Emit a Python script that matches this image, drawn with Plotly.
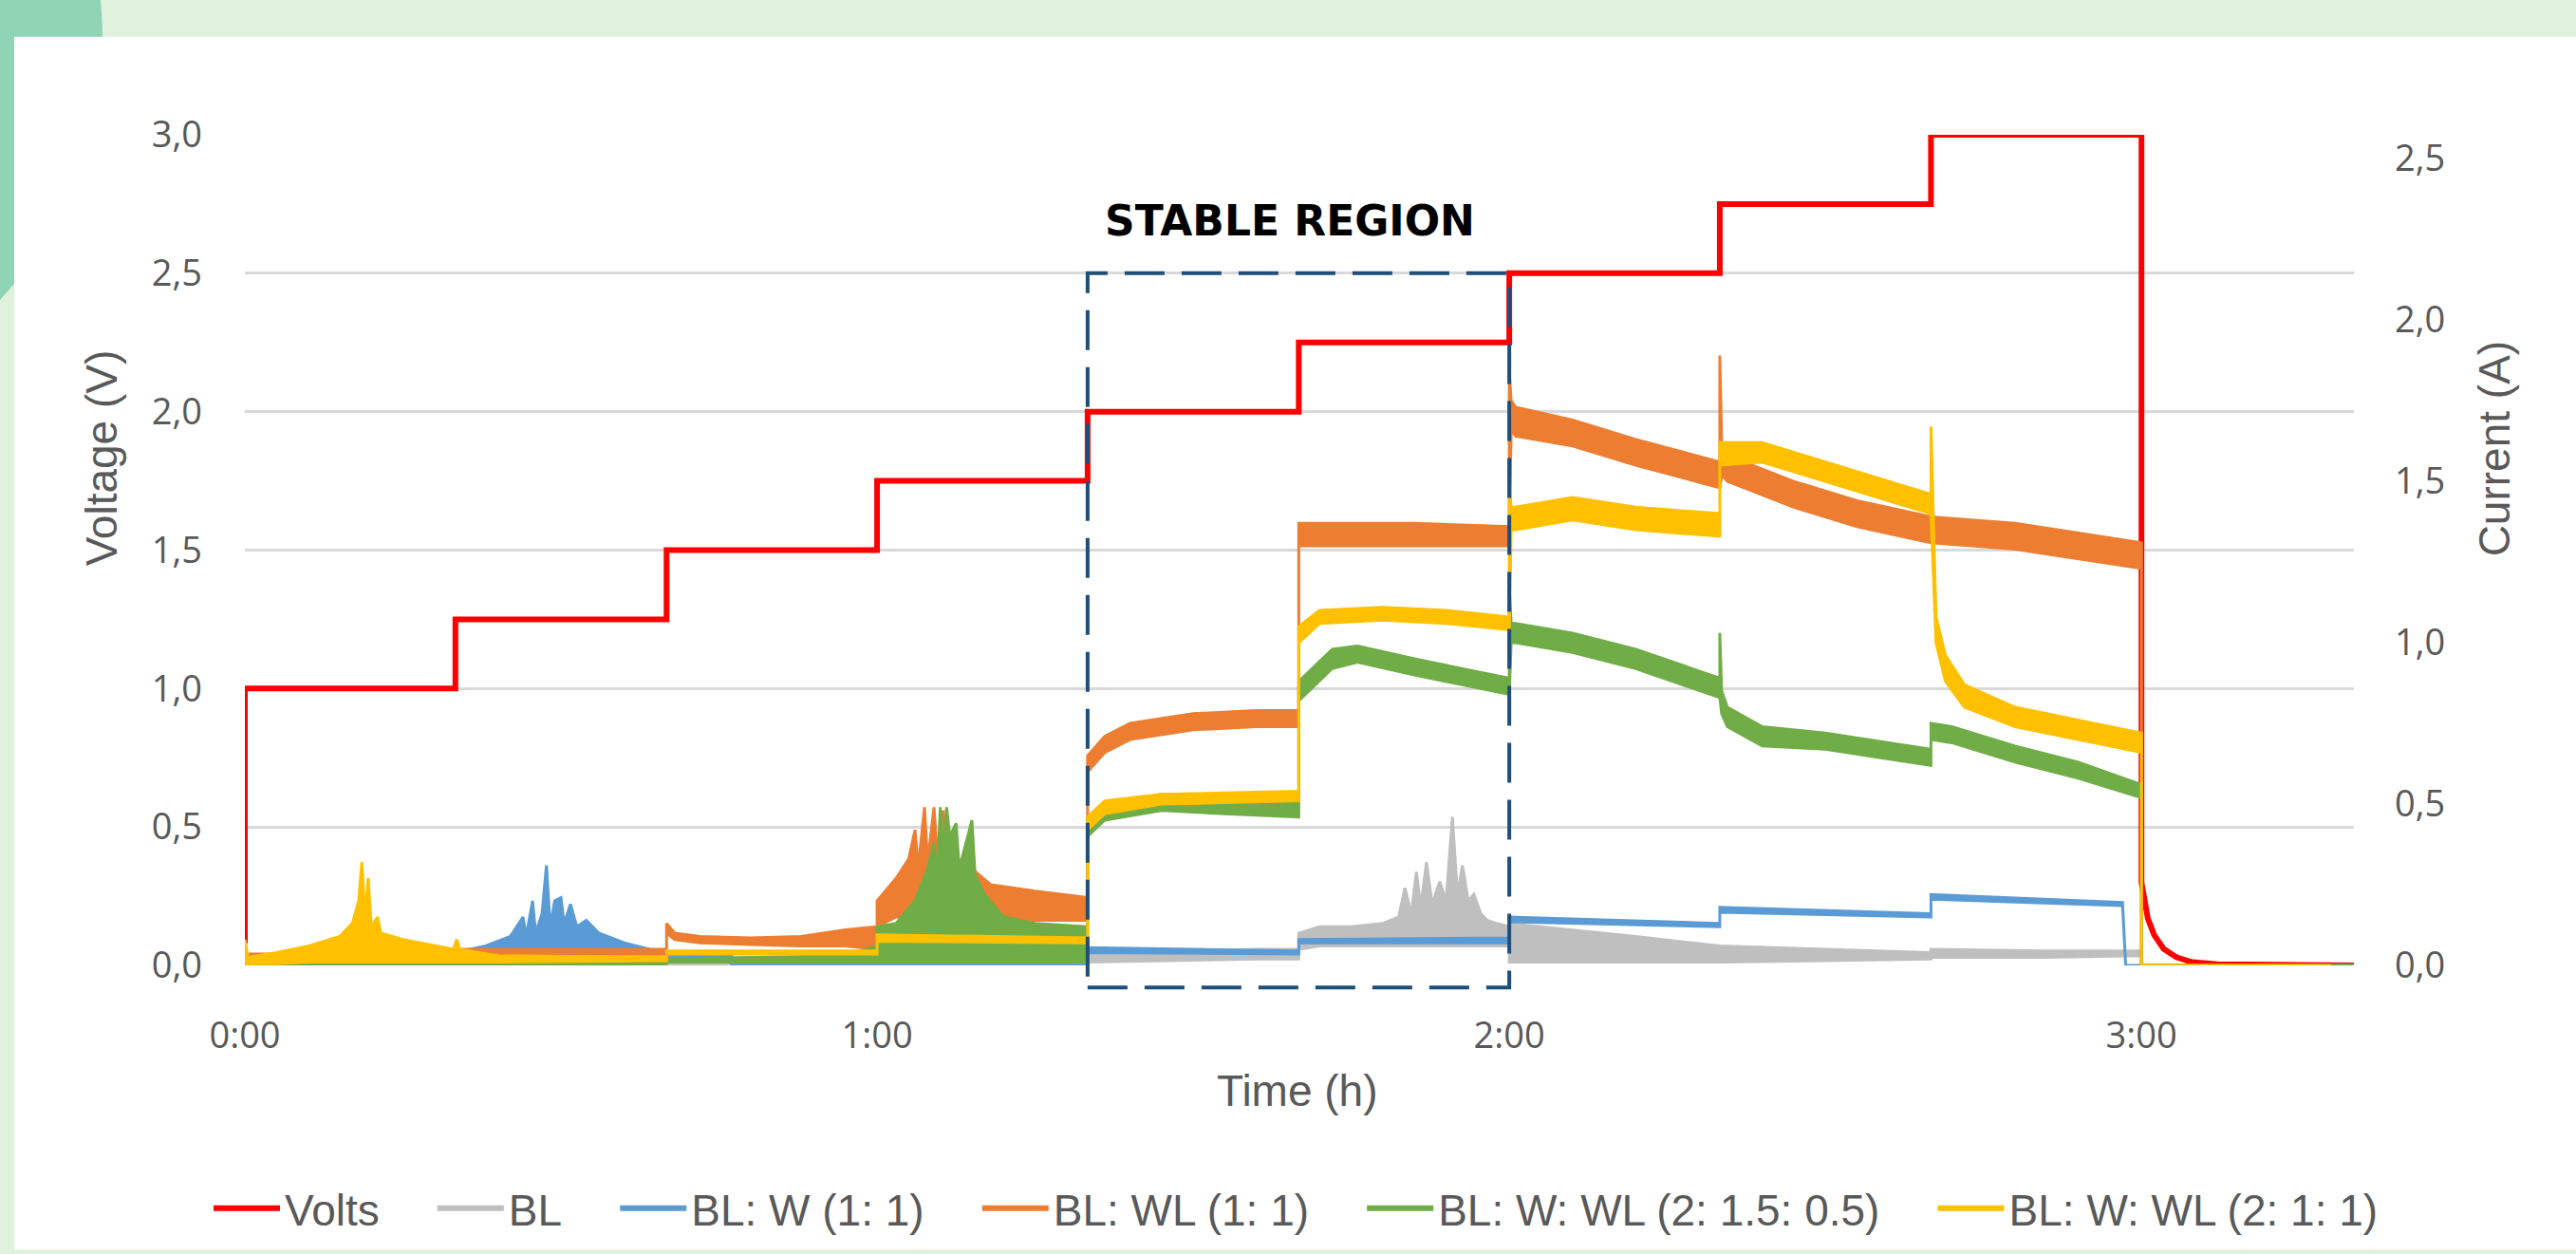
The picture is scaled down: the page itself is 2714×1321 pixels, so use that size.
import plotly.graph_objects as go

# ---------------- data ----------------
TIME_TICKS = [0, 1, 2, 3]
TIME_LABELS = ["0:00", "1:00", "2:00", "3:00"]
VOLT_TICKS = [0, 0.5, 1.0, 1.5, 2.0, 2.5, 3.0]
AMP_TICKS = [0, 0.5, 1.0, 1.5, 2.0, 2.5]

SERIES_NAMES = ["Volts", "BL", "BL: W (1: 1)", "BL: WL (1: 1)",
                "BL: W: WL (2: 1.5: 0.5)", "BL: W: WL (2: 1: 1)"]

# applied voltage (V) vs time (h)
VOLTS_T = [0.0, 0.0, 0.333, 0.333, 0.667, 0.667, 1.0, 1.0, 1.333, 1.333,
           1.667, 1.667, 2.0, 2.0, 2.333, 2.333, 2.667, 2.667, 3.0, 3.0,
           3.01, 3.02, 3.035, 3.055, 3.08, 3.12, 3.336]
VOLTS_V = [0.08, 1.0, 1.0, 1.25, 1.25, 1.5, 1.5, 1.75, 1.75, 2.0,
           2.0, 2.25, 2.25, 2.5, 2.5, 2.75, 2.75, 3.0, 3.0, 0.3,
           0.17, 0.11, 0.06, 0.03, 0.012, 0.004, 0.0]

# currents (A): time, lower and upper envelope of the noisy signal
BL_T = [0.0, 1.333, 1.333, 1.45, 1.6, 1.667, 1.667, 1.70, 1.75, 1.80,
        1.825, 1.835, 1.845, 1.853, 1.860, 1.869, 1.878, 1.89, 1.90, 1.91,
        1.918, 1.926, 1.935, 1.944, 1.955, 1.965, 1.98, 2.0, 2.0, 2.1,
        2.2, 2.333, 2.333, 2.5, 2.667, 2.667, 2.85, 3.0, 3.0, 3.336]
BL_HI = [0.01, 0.01, 0.03, 0.04, 0.05, 0.05, 0.10, 0.12, 0.12, 0.13,
         0.15, 0.24, 0.16, 0.29, 0.18, 0.32, 0.19, 0.26, 0.20, 0.46,
         0.22, 0.31, 0.20, 0.22, 0.16, 0.14, 0.13, 0.12, 0.13, 0.11,
         0.09, 0.06, 0.06, 0.05, 0.04, 0.05, 0.045, 0.045, 0.0, 0.0]
BL_LO = [0.0, 0.0, 0.01, 0.015, 0.02, 0.02, 0.05, 0.06, 0.06, 0.06,
         0.06, 0.06, 0.06, 0.06, 0.06, 0.06, 0.06, 0.06, 0.06, 0.06,
         0.06, 0.06, 0.06, 0.06, 0.06, 0.06, 0.06, 0.06, 0.01, 0.01,
         0.01, 0.01, 0.01, 0.015, 0.02, 0.025, 0.025, 0.03, 0.0, 0.0]

BLW_T = [0.0, 0.333, 0.333, 0.38, 0.42, 0.44, 0.445, 0.455, 0.46, 0.47,
         0.477, 0.483, 0.49, 0.50, 0.505, 0.515, 0.525, 0.54, 0.56, 0.60,
         0.64, 0.667, 0.667, 0.77, 0.77, 1.333, 1.333, 1.667, 1.667, 2.0,
         2.0, 2.333, 2.333, 2.667, 2.667, 2.97, 2.975, 3.336]
BLW_HI = [0.01, 0.01, 0.04, 0.06, 0.09, 0.15, 0.09, 0.20, 0.10, 0.16,
          0.31, 0.12, 0.20, 0.21, 0.13, 0.19, 0.12, 0.14, 0.10, 0.07,
          0.05, 0.045, 0.03, 0.03, 0.01, 0.01, 0.055, 0.045, 0.08, 0.085,
          0.15, 0.13, 0.18, 0.16, 0.22, 0.195, 0.0, 0.0]
BLW_LO = [0.0, 0.0, 0.03, 0.035, 0.035, 0.035, 0.035, 0.035, 0.035, 0.035,
          0.035, 0.035, 0.035, 0.035, 0.035, 0.035, 0.035, 0.035, 0.035, 0.035,
          0.035, 0.035, 0.02, 0.02, 0.005, 0.005, 0.04, 0.035, 0.07, 0.07,
          0.135, 0.12, 0.165, 0.15, 0.205, 0.185, 0.0, 0.0]

BLWL_T = [0.0, 0.333, 0.333, 0.667, 0.667, 0.68, 0.72, 0.80, 0.88, 0.95,
          1.0, 1.0, 1.03, 1.05, 1.06, 1.065, 1.075, 1.08, 1.09, 1.095,
          1.105, 1.11, 1.12, 1.13, 1.15, 1.18, 1.25, 1.333, 1.333, 1.36,
          1.40, 1.50, 1.60, 1.667, 1.667, 1.75, 1.85, 2.0, 2.0, 2.003,
          2.01, 2.10, 2.20, 2.333, 2.333, 2.336, 2.345, 2.45, 2.55, 2.667,
          2.80, 2.90, 3.0, 3.0, 3.336]
BLWL_HI = [0.035, 0.035, 0.05, 0.05, 0.13, 0.10, 0.09, 0.085, 0.09, 0.11,
           0.12, 0.20, 0.27, 0.33, 0.42, 0.30, 0.49, 0.32, 0.49, 0.35,
           0.48, 0.33, 0.40, 0.30, 0.30, 0.25, 0.23, 0.21, 0.65, 0.71,
           0.75, 0.78, 0.79, 0.79, 1.37, 1.37, 1.37, 1.36, 1.84, 1.75,
           1.73, 1.69, 1.63, 1.56, 1.89, 1.62, 1.58, 1.50, 1.44, 1.39,
           1.37, 1.34, 1.31, 0.0, 0.0]
BLWL_LO = [0.01, 0.02, 0.035, 0.035, 0.10, 0.08, 0.07, 0.065, 0.06, 0.06,
           0.05, 0.12, 0.15, 0.15, 0.15, 0.15, 0.15, 0.15, 0.15, 0.15,
           0.15, 0.15, 0.15, 0.15, 0.15, 0.14, 0.14, 0.14, 0.60, 0.66,
           0.70, 0.73, 0.74, 0.74, 1.30, 1.30, 1.30, 1.30, 1.30, 1.66,
           1.64, 1.61, 1.55, 1.48, 1.48, 1.52, 1.50, 1.42, 1.36, 1.31,
           1.29, 1.26, 1.23, 0.0, 0.0]

MIX1_T = [0.0, 0.667, 0.667, 0.95, 1.0, 1.0, 1.03, 1.06, 1.08, 1.09,
          1.095, 1.10, 1.105, 1.11, 1.115, 1.125, 1.13, 1.15, 1.155, 1.17,
          1.20, 1.25, 1.333, 1.333, 1.36, 1.45, 1.55, 1.667, 1.667, 1.72,
          1.76, 1.85, 1.95, 2.0, 2.0, 2.003, 2.01, 2.10, 2.20, 2.333,
          2.333, 2.336, 2.345, 2.40, 2.50, 2.60, 2.667, 2.667, 2.70, 2.80,
          2.90, 3.0, 3.0, 3.336]
MIX1_HI = [0.01, 0.01, 0.02, 0.03, 0.06, 0.12, 0.13, 0.20, 0.30, 0.38,
           0.27, 0.49, 0.33, 0.49, 0.40, 0.44, 0.30, 0.45, 0.28, 0.22,
           0.15, 0.13, 0.12, 0.46, 0.50, 0.53, 0.52, 0.51, 0.88, 0.98,
           0.99, 0.95, 0.91, 0.89, 1.17, 1.06, 1.06, 1.03, 0.98, 0.89,
           1.03, 0.85, 0.80, 0.74, 0.72, 0.69, 0.67, 0.75, 0.74, 0.68,
           0.63, 0.56, 0.0, 0.0]
MIX1_LO = [0.0, 0.0, 0.01, 0.01, 0.01, 0.01, 0.01, 0.01, 0.01, 0.01,
           0.01, 0.01, 0.01, 0.01, 0.01, 0.01, 0.01, 0.01, 0.01, 0.01,
           0.01, 0.01, 0.01, 0.40, 0.45, 0.48, 0.47, 0.46, 0.82, 0.92,
           0.94, 0.90, 0.86, 0.84, 0.84, 1.00, 1.00, 0.97, 0.92, 0.83,
           0.83, 0.78, 0.74, 0.68, 0.67, 0.64, 0.62, 0.70, 0.69, 0.63,
           0.58, 0.52, 0.0, 0.0]

MIX2_T = [0.0, 0.0, 0.005, 0.05, 0.10, 0.15, 0.17, 0.18, 0.185, 0.19,
          0.195, 0.20, 0.21, 0.215, 0.25, 0.30, 0.33, 0.335, 0.34, 0.40,
          0.667, 0.667, 1.0, 1.0, 1.333, 1.333, 1.36, 1.45, 1.667, 1.667,
          1.70, 1.80, 1.90, 2.0, 2.0, 2.003, 2.01, 2.10, 2.20, 2.333,
          2.333, 2.40, 2.50, 2.60, 2.667, 2.667, 2.675, 2.69, 2.72, 2.80,
          2.90, 3.0, 3.0, 3.30]
MIX2_HI = [0.0, 0.08, 0.025, 0.04, 0.06, 0.09, 0.13, 0.20, 0.32, 0.15,
           0.27, 0.12, 0.15, 0.10, 0.08, 0.06, 0.05, 0.08, 0.05, 0.03,
           0.025, 0.045, 0.045, 0.095, 0.085, 0.46, 0.51, 0.53, 0.54, 1.05,
           1.10, 1.11, 1.10, 1.08, 1.50, 1.42, 1.42, 1.45, 1.42, 1.40,
           1.62, 1.62, 1.56, 1.50, 1.46, 1.67, 1.08, 0.96, 0.87, 0.80,
           0.76, 0.72, 0.0, 0.0]
MIX2_LO = [0.0, 0.0, 0.005, 0.005, 0.01, 0.01, 0.01, 0.01, 0.01, 0.01,
           0.01, 0.01, 0.01, 0.01, 0.01, 0.01, 0.01, 0.01, 0.01, 0.01,
           0.015, 0.035, 0.035, 0.075, 0.07, 0.42, 0.47, 0.50, 0.51, 1.00,
           1.06, 1.07, 1.06, 1.04, 1.04, 1.35, 1.35, 1.38, 1.35, 1.33,
           1.55, 1.56, 1.50, 1.44, 1.40, 1.40, 1.00, 0.88, 0.80, 0.74,
           0.70, 0.66, 0.0, 0.0]

STABLE_START, STABLE_END = 1.333, 2.0        # h
STABLE_V_TOP, STABLE_V_BOTTOM = 2.5, -0.08   # V

# ---------------- styling ----------------
COLORS = ["#ff0000", "#bfbfbf", "#5b9bd5", "#ed7d31", "#70ad47", "#ffc000"]
TEXT_GREY = "#595959"
GRID = "#d9d9d9"
LIGHT_GREEN = "#dff2dc"
DARK_GREEN = "#8fd4b5"
BOX_BLUE = "#1f4e79"
SANS = "Liberation Sans, Arial, sans-serif"
TICK_FONT = dict(family="Open Sans, DejaVu Sans, sans-serif", size=38, color=TEXT_GREY)
LABEL_FONT = dict(family=SANS, size=46, color=TEXT_GREY)
LEGEND_PAD = "\u00a0" * 4   # spacing after each legend entry

W, H = 2714, 1321
PLOT_L, PLOT_R, PLOT_T, PLOT_B = 258, 2480, 142, 1024
X_RANGE = [0, 3.336]
V_RANGE = [0, 3.0]
A_RANGE = [0, 2.574]


def px(x):
    return (x - PLOT_L) / (PLOT_R - PLOT_L)


def py(y):
    return (PLOT_B - y) / (PLOT_B - PLOT_T)


def xd(t):
    return (t - X_RANGE[0]) / (X_RANGE[1] - X_RANGE[0])


def yd(v):
    return (v - V_RANGE[0]) / (V_RANGE[1] - V_RANGE[0])


fig = go.Figure()

fig.add_trace(go.Scatter(x=VOLTS_T, y=VOLTS_V, mode="lines", name=SERIES_NAMES[0],
                         line=dict(color=COLORS[0], width=6), showlegend=False,
                         yaxis="y"))

current_series = [
    (BL_T, BL_LO, BL_HI),
    (BLW_T, BLW_LO, BLW_HI),
    (BLWL_T, BLWL_LO, BLWL_HI),
    (MIX1_T, MIX1_LO, MIX1_HI),
    (MIX2_T, MIX2_LO, MIX2_HI),
]
for i, (t, lo, hi) in enumerate(current_series, start=1):
    assert len(t) == len(lo) == len(hi), SERIES_NAMES[i]
    fig.add_trace(go.Scatter(
        x=list(t) + list(t)[::-1], y=list(hi) + list(lo)[::-1],
        mode="lines", fill="toself", fillcolor=COLORS[i],
        line=dict(color=COLORS[i], width=3), name=SERIES_NAMES[i],
        showlegend=False, yaxis="y2", hoverinfo="skip"))

# legend entries
for k, (name, color) in enumerate(zip(SERIES_NAMES, COLORS)):
    label = name if k == len(SERIES_NAMES) - 1 else name + LEGEND_PAD
    fig.add_trace(go.Scatter(x=[None], y=[None], mode="lines", name=label,
                             line=dict(color=color, width=6), yaxis="y2"))

shapes = [
    dict(type="circle", xref="paper", yref="paper", layer="below",
         x0=px(-712), x1=px(108), y0=py(450), y1=py(-370),
         fillcolor=DARK_GREEN, line=dict(width=0)),
    dict(type="rect", xref="paper", yref="paper", layer="below",
         x0=px(15), x1=px(W + 5), y0=py(H + 5), y1=py(38),
         fillcolor="white", line=dict(width=0)),
    dict(type="rect", xref="paper", yref="paper", layer="above",
         x0=xd(STABLE_START), x1=xd(STABLE_END),
         y0=yd(STABLE_V_BOTTOM), y1=yd(STABLE_V_TOP),
         fillcolor="rgba(0,0,0,0)",
         line=dict(color=BOX_BLUE, width=4, dash="42px,18px")),
]

annotations = [
    dict(text="STABLE REGION", xref="paper", yref="paper",
         x=xd((STABLE_START + STABLE_END) / 2) - 0.004, y=py(233),
         showarrow=False, xanchor="center", yanchor="middle",
         font=dict(family="DejaVu Sans, sans-serif", size=44, color="black", weight="bold")),
    dict(text="Voltage (V)", xref="paper", yref="paper", x=px(107), y=py(485),
         textangle=-90, showarrow=False, xanchor="center", yanchor="middle",
         font=LABEL_FONT),
    dict(text="Current (A)", xref="paper", yref="paper", x=px(2628), y=py(476),
         textangle=-90, showarrow=False, xanchor="center", yanchor="middle",
         font=LABEL_FONT),
    dict(text="Time (h)", xref="paper", yref="paper", x=px(1367), y=py(1157),
         showarrow=False, xanchor="center", yanchor="middle", font=LABEL_FONT),
]

fig.update_layout(
    width=W, height=H,
    margin=dict(l=PLOT_L, r=W - PLOT_R, t=PLOT_T, b=H - PLOT_B, pad=0),
    paper_bgcolor=LIGHT_GREEN, plot_bgcolor="white",
    separators=",.",
    showlegend=True,
    legend=dict(orientation="h", x=px(220), y=py(1282), xanchor="left", yanchor="middle",
                font=dict(family=SANS, size=46, color=TEXT_GREY),
                bgcolor="rgba(0,0,0,0)", itemwidth=70, tracegroupgap=0),
    xaxis=dict(range=X_RANGE, tickvals=TIME_TICKS, ticktext=TIME_LABELS,
               showgrid=False, zeroline=False, showline=False, ticks="",
               tickfont=TICK_FONT, ticklabelstandoff=48),
    yaxis=dict(range=V_RANGE, tickvals=VOLT_TICKS, tickformat=".1f",
               showgrid=True, gridcolor=GRID, gridwidth=3, zeroline=False,
               showline=False, ticks="", tickfont=TICK_FONT, ticklabelstandoff=44),
    yaxis2=dict(range=A_RANGE, tickvals=AMP_TICKS, tickformat=".1f", overlaying="y",
                side="right", showgrid=False, zeroline=False, showline=False,
                ticks="", tickfont=TICK_FONT, ticklabelstandoff=42),
    shapes=shapes, annotations=annotations,
)

fig.write_html("out.html")
